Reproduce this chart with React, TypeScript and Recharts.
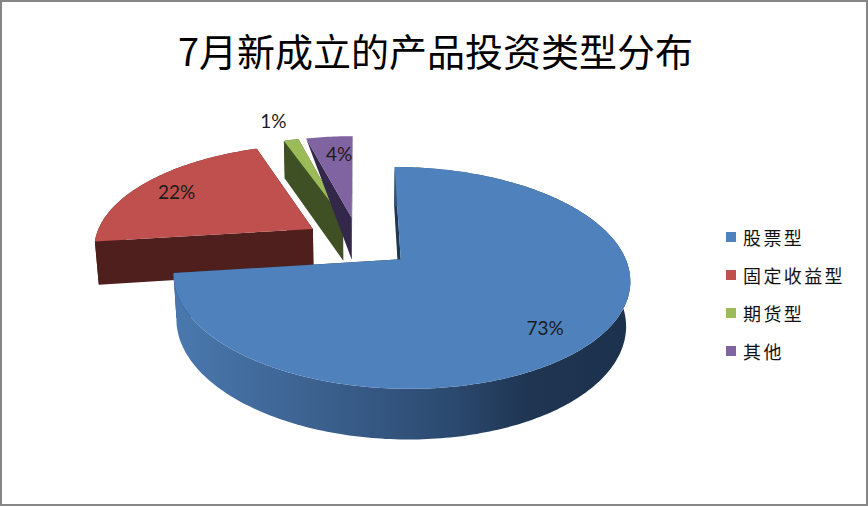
import { Legend, Pie, PieChart } from "recharts";

const titleText = "7月新成立的产品投资类型分布";
const categories = ["股票型", "固定收益型", "期货型", "其他"];
const shares = [73.0, 21.6, 1.3, 4.1];

const topColors = ["#4f81bd", "#c0504d", "#9bbb59", "#8064a2"];
const sideColors = ["url(#blueWall)", "#4e1f1c", "#3f5024", "#33284a"];
// how far along the slice's mid angle each percentage label sits, and how much it is turned off it
const labelReach = [0.8, 0.8, 1.3, 0.76];
const labelTurn = [-3, 1, 1, -1.5];
// the purple wall shows as a wedge in the reference, its outer edge has no height
const rimHeight = [1, 1, 1, 0];

const total = shares.reduce((a, b) => a + b, 0);
// blue goes last so it paints over the other slices, the angle is rotated to suit
const drawOrder = [1, 2, 3, 0];
const pieData = drawOrder.map((i) => ({
  name: categories[i],
  value: shares[i],
  idx: i,
}));
const firstAngle = 90 - (shares[0] / total) * 360;

// fake 3D: unit disk -> screen with a bit of perspective
const SQUASH = 0.466;
const PERSPECTIVE = 0.163;
const DEPTH = 44;
const DEPTH_SHRINK = 0.015;
const EXPLODE = 0.25;
const RAD = Math.PI / 180;

function project(cx: number, cy: number, r: number, u: number, v: number, z: number) {
  const w = 1 - PERSPECTIVE * v + DEPTH_SHRINK * z;
  return [cx + (r * u) / w, cy + (r * SQUASH * v + DEPTH * z) / w];
}

const toPath = (pts: number[][]) =>
  "M" + pts.map((p) => `${p[0].toFixed(1)},${p[1].toFixed(1)}`).join("L") + "Z";

function Slice3D(props: any) {
  const { cx, cy, outerRadius: r, startAngle, endAngle, midAngle, payload } = props;
  const idx = payload.idx;
  const ox = Math.cos(midAngle * RAD) * EXPLODE;
  const oy = -Math.sin(midAngle * RAD) * EXPLODE;
  const at = (deg: number, reach: number, z: number) =>
    project(cx, cy, r, ox + Math.cos(deg * RAD) * reach, oy - Math.sin(deg * RAD) * reach, z);

  const steps = Math.max(4, Math.ceil(Math.abs(endAngle - startAngle)));
  const rim: number[] = [];
  for (let i = 0; i <= steps; i++) rim.push(startAngle + ((endAngle - startAngle) * i) / steps);

  const top = [at(0, 0, 0), ...rim.map((a) => at(a, 1, 0))];
  const low = rimHeight[idx];
  const outer = [...rim.map((a) => at(a, 1, 0)), ...[...rim].reverse().map((a) => at(a, 1, low))];
  const cut = (a: number) => [at(0, 0, 0), at(a, 1, 0), at(a, 1, low), at(0, 0, 1)];
  const cutFill = idx === 0 ? "#1f3550" : sideColors[idx];

  return (
    <g>
      <path d={toPath(cut(startAngle))} fill={cutFill} />
      <path d={toPath(cut(endAngle))} fill={cutFill} />
      <path d={toPath(outer)} fill={sideColors[idx]} />
      <path d={toPath(top)} fill={topColors[idx]} />
    </g>
  );
}

function SliceLabel(props: any) {
  const { cx, cy, outerRadius: r, midAngle, payload } = props;
  const reach = EXPLODE + labelReach[payload.idx];
  const a = (midAngle + labelTurn[payload.idx]) * RAD;
  const [x, y] = project(cx, cy, r, Math.cos(a) * reach, -Math.sin(a) * reach, 0);
  return (
    <text x={x} y={y} textAnchor="middle" dominantBaseline="central" fontSize={19} fill="#1c1c1c" fontFamily="Lato">
      {Math.round(payload.value)}%
    </text>
  );
}

function SideLegend() {
  return (
    <div style={{ fontFamily: "'Noto Sans CJK SC'", fontSize: 18, letterSpacing: 2.4, color: "#111" }}>
      {categories.map((name, i) => (
        <div key={name} style={{ display: "flex", alignItems: "center", height: 38 }}>
          <span style={{ width: 10, height: 10, background: topColors[i], marginRight: 7 }} />
          {name}
        </div>
      ))}
    </div>
  );
}

export default function App() {
  return (
    <div style={{ position: "absolute", left: 0, top: 0, width: 868, height: 506, background: "#fff" }}>
      <PieChart width={868} height={506} margin={{ top: 0, right: 0, bottom: 0, left: 0 }}>
        <defs>
          <linearGradient id="blueWall" gradientUnits="userSpaceOnUse" x1="175" y1="0" x2="630" y2="0">
            <stop offset="0%" stopColor="#4a78ae" />
            <stop offset="30%" stopColor="#3c6290" />
            <stop offset="60%" stopColor="#2c4a70" />
            <stop offset="78%" stopColor="#1f3551" />
            <stop offset="100%" stopColor="#1c314c" />
          </linearGradient>
        </defs>
        <text x={435.5} y={49} textAnchor="middle" dominantBaseline="central" fontSize={38} fill="#000" fontFamily="'Noto Sans CJK SC'">
          {titleText}
        </text>
        <Pie
          data={pieData}
          dataKey="value"
          nameKey="name"
          cx={358.5}
          cy={242}
          outerRadius={219}
          startAngle={firstAngle}
          endAngle={firstAngle - 360}
          stroke="none"
          shape={Slice3D}
          label={SliceLabel}
          labelLine={false}
          isAnimationActive={false}
        />
        <Legend
          layout="vertical"
          align="right"
          verticalAlign="top"
          content={SideLegend}
          wrapperStyle={{ left: 726, top: 218, width: 140 }}
        />
      </PieChart>
      <div
        style={{
          position: "absolute",
          left: 0,
          top: 0,
          width: 868,
          height: 506,
          boxSizing: "border-box",
          border: "2px solid #868686",
          pointerEvents: "none",
        }}
      />
    </div>
  );
}
